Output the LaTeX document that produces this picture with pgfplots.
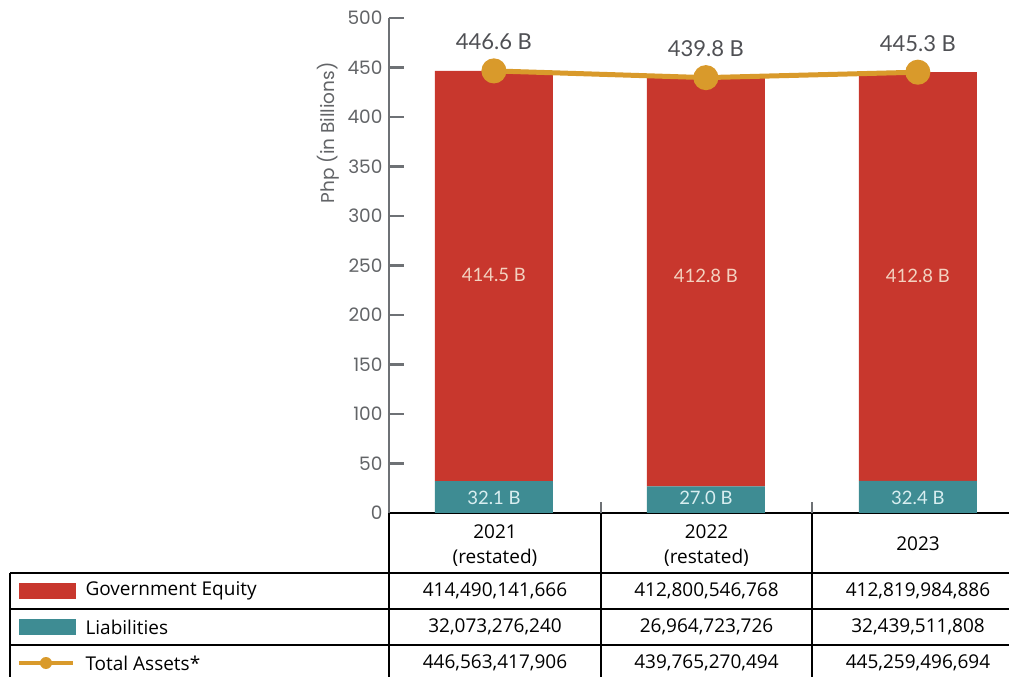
\documentclass[border=0pt]{standalone}
\usepackage{pgfplots}
\pgfplotsset{compat=1.18}
\usepackage{fontspec}
\setmainfont{Lato}
\newfontfamily\tickfont{Poppins}
\newfontfamily\tablefont{Open Sans}
\definecolor{eqred}{HTML}{C8372D}
\definecolor{liabteal}{HTML}{3E8C93}
\definecolor{totgold}{HTML}{D99A2B}
\definecolor{axgrey}{HTML}{6E7175}
\definecolor{ticklab}{HTML}{626467}
\definecolor{labgrey}{HTML}{4F5054}
\definecolor{redlab}{HTML}{F3D2C0}
\definecolor{teallab}{HTML}{D8EEF0}
\pgfplotsset{/pgf/number format/assume math mode=true}
\begin{document}
\begin{tikzpicture}[x=1pt,y=1pt]
\useasboundingbox (-389,-164) rectangle (620,513);
\pgfplotsset{
  common/.style={
    scale only axis, width=620pt, height=495pt,
    xmin=-0.495, xmax=2.43, ymin=0, ymax=500,
    at={(0,0)}, anchor=south west, clip=false,
  }
}
\begin{axis}[common,
  ybar stacked, bar width=118pt,
  axis y line=left, axis x line=bottom, axis line style={-},
  x axis line style={black, line width=1.6pt},
  y axis line style={axgrey, line width=2.5pt},
  xtick=\empty,
  ytick={0,50,...,500},
  major tick length=15pt,
  ytick style={axgrey, line width=2.5pt},
  tick align=inside,
  yticklabel style={font=\tickfont\fontsize{18.5}{21}\selectfont, color=ticklab, xshift=-3pt},
  ylabel={Php (in Billions)},
  ylabel style={at={(axis description cs:-0.098,0.768)}, anchor=center, font=\tickfont\fontsize{18.5}{21}\selectfont, color=ticklab},
]
\addplot[fill=liabteal, draw=none] coordinates {(0,32.073) (1,26.965) (2,32.440)};
\addplot[fill=eqred, draw=none] coordinates {(0,414.490) (1,412.801) (2,412.820)};
\end{axis}
\begin{axis}[common, hide axis]
\addplot[totgold, line width=5pt, mark=*, mark size=10pt,
  mark options={fill=totgold, draw=none},
  nodes near coords={\pgfmathprintnumber[fixed,precision=1,fixed zerofill]{\pgfplotspointmeta} B},
  point meta=y,
  every node near coord/.append style={anchor=center, yshift=29pt, color=labgrey, font=\fontsize{22}{26}\selectfont}]
coordinates {(0,446.563) (1,439.765) (2,445.259)};
\node[text=redlab, font=\fontsize{18.5}{21}\selectfont] at (axis cs:0,240) {414.5 B};
\node[text=redlab, font=\fontsize{18.5}{21}\selectfont] at (axis cs:1,240) {412.8 B};
\node[text=redlab, font=\fontsize{18.5}{21}\selectfont] at (axis cs:2,240) {412.8 B};
\node[text=teallab, font=\fontsize{18.5}{21}\selectfont] at (axis cs:0,15.5) {32.1 B};
\node[text=teallab, font=\fontsize{18.5}{21}\selectfont] at (axis cs:1,15.5) {27.0 B};
\node[text=teallab, font=\fontsize{18.5}{21}\selectfont] at (axis cs:2,15.5) {32.4 B};
\end{axis}
% table
\draw[axgrey, line width=1.6pt] (212,0) -- (212,11);
\draw[axgrey, line width=1.6pt] (423,0) -- (423,11);
\draw[black, line width=1.6pt] (0,0) -- (0,-164);
\draw[black, line width=1.6pt] (212,0) -- (212,-164);
\draw[black, line width=1.6pt] (423,0) -- (423,-164);
\draw[black, line width=1.6pt] (-379,-60) -- (620,-60);
\draw[black, line width=1.6pt] (-379,-96) -- (620,-96);
\draw[black, line width=1.6pt] (-379,-132) -- (620,-132);
\draw[black, line width=1.6pt] (-379,-60) -- (-379,-164);
\begin{scope}[every node/.style={font=\tablefont\fontsize{19}{25}\selectfont, text=black}]
\node[align=center] at (106,-33) {2021\\(restated)};
\node[align=center] at (317.5,-33) {2022\\(restated)};
\node at (529,-31) {2023};
\node at (106,-78) {414,490,141,666};
\node at (317.5,-78) {412,800,546,768};
\node at (529,-78) {412,819,984,886};
\node at (106,-114) {32,073,276,240};
\node at (317.5,-114) {26,964,723,726};
\node at (529,-114) {32,439,511,808};
\node at (106,-150) {446,563,417,906};
\node at (317.5,-150) {439,765,270,494};
\node at (529,-150) {445,259,496,694};
\node[anchor=west] at (-307,-78) {Government Equity};
\node[anchor=west] at (-307,-114) {Liabilities};
\node[anchor=west] at (-307,-150) {Total Assets*};
\end{scope}
\fill[eqred] (-370,-70) rectangle (-313,-86);
\fill[liabteal] (-370,-106) rectangle (-313,-122);
\draw[totgold, line width=3.5pt] (-370,-150) -- (-316,-150);
\fill[totgold] (-343,-150) circle (6);
\end{tikzpicture}
\end{document}
